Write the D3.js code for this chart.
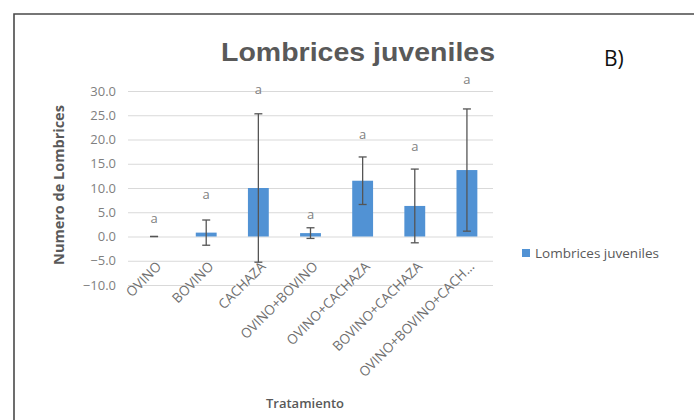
<!DOCTYPE html>
<html>
<head>
<meta charset="utf-8">
<script src="https://cdn.jsdelivr.net/npm/d3@7/dist/d3.min.js"></script>
<style>
  body { margin: 0; background: #fff; }
  text { font-family: "Open Sans", "Liberation Sans", sans-serif; }
</style>
</head>
<body>
<div id="chart"></div>
<script>
// data
const categories = ['OVINO', 'BOVINO', 'CACHAZA', 'OVINO+BOVINO', 'OVINO+CACHAZA', 'BOVINO+CACHAZA', 'OVINO+BOVINO+CACH…'];
const values = [0.0, 0.8, 10.0, 0.7, 11.5, 6.3, 13.7];
const errors = [0.0, 2.6, 15.3, 1.1, 4.9, 7.6, 12.6];
const letters = ['a', 'a', 'a', 'a', 'a', 'a', 'a'];
const letterPos = [3.7, 8.7, 30.4, 4.5, 21.1, 18.6, 32.4];
const yTicks = [-10, -5, 0, 5, 10, 15, 20, 25, 30];

const W = 694;
const H = 420;
const margin = { top: 91, right: 201, bottom: 135, left: 128 };
const width = W - margin.left - margin.right;
const height = H - margin.top - margin.bottom;

const svg = d3.select('#chart')
  .append('svg')
  .attr('width', W)
  .attr('height', H);

// outer frame (top and left edges of the screenshot)
svg.append('path')
  .attr('d', `M14,${H} L14,14 L${W},14`)
  .attr('fill', 'none')
  .attr('stroke', '#4a4a4a')
  .attr('stroke-width', 1.6);

const g = svg.append('g')
  .attr('transform', `translate(${margin.left},${margin.top})`);

const x = d3.scaleBand()
  .domain(categories)
  .range([0, width])
  .paddingInner(0.6)
  .paddingOuter(0.3);

const y = d3.scaleLinear()
  .domain([-10, 30])
  .range([height, 0]);

// gridlines + y labels
const yAxis = g.append('g')
  .call(d3.axisLeft(y).tickValues(yTicks).tickSize(-width).tickFormat(d3.format('.1f')));
yAxis.select('.domain').remove();
yAxis.selectAll('line').attr('stroke', '#d9d9d9').attr('stroke-width', 1);
yAxis.selectAll('text')
  .attr('x', -12)
  .attr('fill', '#7f7f7f')
  .style('font-size', '13px');

// bars
g.selectAll('.bar')
  .data(values)
  .enter()
  .append('rect')
  .attr('class', 'bar')
  .attr('x', (d, i) => x(categories[i]))
  .attr('width', x.bandwidth())
  .attr('y', d => y(Math.max(0, d)))
  .attr('height', d => Math.abs(y(d) - y(0)))
  .attr('fill', '#5192d4');

// error bars
const cap = 4;
const eb = g.selectAll('.err')
  .data(values)
  .enter()
  .append('g')
  .attr('class', 'err')
  .attr('stroke', '#555')
  .attr('stroke-width', 1.3);
eb.append('line')
  .attr('x1', (d, i) => x(categories[i]) + x.bandwidth() / 2)
  .attr('x2', (d, i) => x(categories[i]) + x.bandwidth() / 2)
  .attr('y1', (d, i) => y(d - errors[i]))
  .attr('y2', (d, i) => y(d + errors[i]));
eb.append('line')
  .attr('x1', (d, i) => x(categories[i]) + x.bandwidth() / 2 - cap)
  .attr('x2', (d, i) => x(categories[i]) + x.bandwidth() / 2 + cap)
  .attr('y1', (d, i) => y(d + errors[i]))
  .attr('y2', (d, i) => y(d + errors[i]));
eb.append('line')
  .attr('x1', (d, i) => x(categories[i]) + x.bandwidth() / 2 - cap)
  .attr('x2', (d, i) => x(categories[i]) + x.bandwidth() / 2 + cap)
  .attr('y1', (d, i) => y(d - errors[i]))
  .attr('y2', (d, i) => y(d - errors[i]));

// significance letters
g.selectAll('.letter')
  .data(letters)
  .enter()
  .append('text')
  .attr('class', 'letter')
  .attr('x', (d, i) => x(categories[i]) + x.bandwidth() / 2)
  .attr('y', (d, i) => y(letterPos[i]))
  .attr('dy', '0.35em')
  .attr('text-anchor', 'middle')
  .attr('fill', '#7f7f7f')
  .style('font-size', '13px')
  .text(d => d);

// category labels, rotated
g.selectAll('.cat')
  .data(categories)
  .enter()
  .append('text')
  .attr('class', 'cat')
  .attr('transform', d => `translate(${x(d) + x.bandwidth() / 2 + 1},${y(-4.9)}) rotate(-45)`)
  .attr('dy', '0.75em')
  .attr('text-anchor', 'end')
  .attr('fill', '#6f6f6f')
  .style('font-size', '13.5px')
  .text(d => d);

// titles
svg.append('text')
  .attr('x', 221)
  .attr('y', 61)
  .attr('textLength', 274)
  .attr('lengthAdjust', 'spacingAndGlyphs')
  .attr('fill', '#595959')
  .style('font-family', '"Liberation Sans", Arial, sans-serif')
  .style('font-weight', 'bold')
  .style('font-size', '26px')
  .text('Lombrices juveniles');

svg.append('text')
  .attr('x', 604)
  .attr('y', 66)
  .attr('fill', '#111')
  .style('font-size', '21px')
  .text('B)');

svg.append('text')
  .attr('transform', `translate(64,185) rotate(-90)`)
  .attr('text-anchor', 'middle')
  .attr('fill', '#595959')
  .style('font-weight', 'bold')
  .style('font-size', '14.5px')
  .text('Numero de Lombrices');

svg.append('text')
  .attr('x', 305)
  .attr('y', 408)
  .attr('text-anchor', 'middle')
  .attr('fill', '#595959')
  .style('font-weight', '600')
  .style('font-size', '13px')
  .text('Tratamiento');

// legend
const lg = svg.append('g').attr('transform', 'translate(522,253)');
lg.append('rect')
  .attr('x', 0)
  .attr('y', -4)
  .attr('width', 8)
  .attr('height', 8)
  .attr('fill', '#5192d4');
lg.append('text')
  .attr('x', 13)
  .attr('dy', '0.35em')
  .attr('fill', '#595959')
  .style('font-size', '13.5px')
  .text('Lombrices juveniles');
</script>
</body>
</html>
